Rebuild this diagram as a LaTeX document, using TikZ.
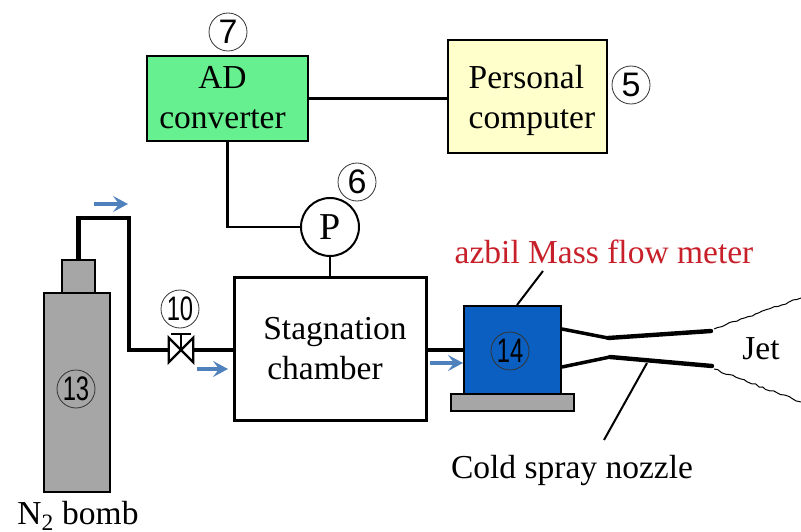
\documentclass[tikz,border=0pt]{standalone}
\usepackage{xcolor}
\usepackage{fontspec}
\setmainfont{Liberation Serif}
\usetikzlibrary{arrows.meta,positioning,calc,decorations.pathmorphing}
\definecolor{AdGreen}{HTML}{66F08F}
\definecolor{PcYellow}{HTML}{FFFFCC}
\definecolor{GasGray}{HTML}{A6A6A6}
\definecolor{MeterBlue}{HTML}{0A5FC0}
\definecolor{FlowBlue}{HTML}{4F81BD}
\definecolor{LabelRed}{HTML}{C8202A}
\newfontfamily\numfont{Liberation Sans}
\newcommand{\bigtext}{\fontsize{33.5}{40}\selectfont}
\tikzset{
  unitbox/.style={draw=black,line width=2.4pt,inner sep=0pt,align=center,font=\bigtext},
  numtag/.style={draw=black!80,circle,line width=0.8pt,minimum size=38pt,inner sep=0pt,font=\numfont\fontsize{34}{34}\selectfont},
  label/.style={inner sep=0pt,font=\bigtext},
  wire/.style={line width=2.2pt},
  pipe/.style={line width=4.4pt,line join=miter},
  leader/.style={line width=2pt},
  flowarrow/.style={-{Stealth[length=15pt,width=16pt,inset=6pt]},line width=3.5pt,color=FlowBlue},
  jetline/.style={line width=1pt,decorate,decoration={random steps,segment length=4pt,amplitude=0.9pt}}
}
\pgfmathsetseed{7}
\begin{document}
\begin{tikzpicture}[x=1pt,y=-1pt]
  \useasboundingbox (0,0) rectangle (801,532);
  \node[unitbox,fill=AdGreen,minimum width=161pt,minimum height=85pt,text depth=3pt] (adconv) at (227.5,98.5) {AD\hspace*{10pt}\\converter\hspace*{10pt}};
  \node[unitbox,fill=PcYellow,minimum width=159pt,minimum height=113pt,text depth=-3pt,align=left] (computer) at (527.5,96.5) {\hspace*{9pt}Personal\\\hspace*{9pt}computer};
  \node[unitbox,circle,line width=2pt,minimum size=58pt,font=\fontsize{38}{38}\selectfont] (pgauge) at (330,227) {P};
  \node[unitbox,fill=white,line width=3pt,minimum width=192pt,minimum height=143pt,text depth=-3pt] (chamber) at (330,348.5) {\hspace*{10pt}Stagnation\\chamber\hspace*{10pt}};
  \node[unitbox,fill=GasGray,line width=2pt,minimum width=66pt,minimum height=199pt] (bottle) at (77,392.5) {};
  \node[unitbox,fill=GasGray,line width=2pt,minimum width=33pt,minimum height=33pt] (bottlecap) at (78.5,276.5) {};
  \node[unitbox,fill=MeterBlue,line width=2pt,minimum width=97pt,minimum height=89pt] (meter) at (512.5,350) {};
  \node[unitbox,fill=GasGray,line width=2pt,minimum width=123pt,minimum height=17pt] (meterbase) at (512,402.5) {};
  \node[minimum size=24pt,inner sep=0pt] (valve) at (181,350) {};

  \node[numtag] (tagseven) at (228,32) {7};
  \node[numtag] (tagfive) at (631,85) {5};
  \node[numtag] (tagsix) at (357,182) {6};
  \node[numtag] (tagten) at (180,309) {\scalebox{.7}[1]{10}};
  \node[numtag] (tagthirteen) at (76,389) {\scalebox{.7}[1]{13}};
  \node[numtag] (tagfourteen) at (510,351) {\scalebox{.7}[1]{14}};

  \node[label,anchor=base] (bomblabel) at (78,524) {N\textsubscript{2} bomb};
  \node[label,anchor=base,text=LabelRed] (meterlabel) at (604,263) {azbil Mass flow meter};
  \node[label,anchor=base] (nozzlelabel) at (572,478) {Cold spray nozzle};
  \node[label] (jetlabel) at (761,349) {Jet};

  \coordinate (pipetop) at (129,218);
  \coordinate (pipelow) at (129,350);
  \coordinate (topthroat) at (608,338);
  \coordinate (topexit) at (711,331);
  \coordinate (lowthroat) at (610,357);
  \coordinate (lowexit) at (712,366);
  \coordinate (nozzletouch) at (647,363);
  \coordinate (metertouch) at (517,305);
  \coordinate (nozzleend) at (604,440);
  \coordinate (meterend) at (543,271);

  \draw[wire] (adconv.east) -- (adconv.east -| computer.west);
  \draw[wire] (adconv.south) |- (pgauge.west);
  \draw[wire] (pgauge.south) -- (chamber.north);
  \draw[pipe] (bottlecap.north) |- (pipetop) -- (pipelow) -- (valve.west);
  \draw[pipe] (valve.east) -- (valve.east -| chamber.west);
  \draw[pipe] (chamber.east |- meter.west) -- (meter.west);
  \draw[line width=2.2pt,fill=white] (valve.north west) -- (valve.south east) -- (valve.north east) -- (valve.south west) -- cycle;
  \draw[line width=2.2pt] (valve.center) -- (181,334) (171,334) -- (191,334);

  \draw[line width=3.5pt,line cap=round] (meter.east |- 0,329) -- (topthroat);
  \draw[line width=4.4pt,line cap=round] (topthroat) -- (topexit);
  \draw[line width=3.5pt,line cap=round] (meter.east |- 0,367) -- (lowthroat);
  \draw[line width=4.4pt,line cap=round] (lowthroat) -- (lowexit);
  \draw[jetline] (714,329) -- (801,298);
  \draw[jetline] (714,369) -- (801,402);
  \draw[leader] (metertouch) -- (meterend);
  \draw[leader] (nozzletouch) -- (nozzleend);

  \draw[flowarrow] (94,204) -- (128,204);
  \draw[flowarrow] (197,369) -- (228,369);
  \draw[flowarrow] (430,363) -- (463,363);
\end{tikzpicture}
\end{document}
